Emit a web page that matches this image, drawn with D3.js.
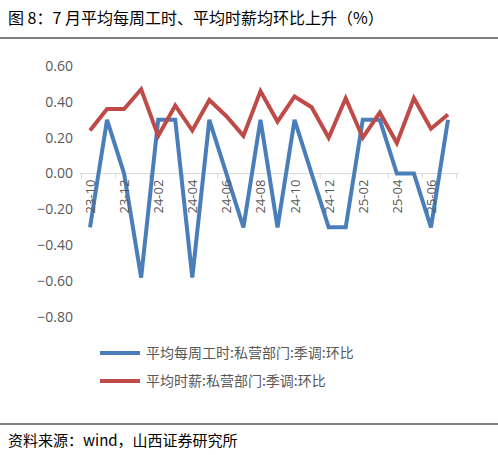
<!DOCTYPE html>
<html><head><meta charset="utf-8">
<script src="https://cdn.jsdelivr.net/npm/d3@7"></script>
<style>body{margin:0;background:#fff;font-family:"Noto Sans CJK SC","DejaVu Sans",sans-serif;}</style>
</head><body><div id="chart"></div>
<script>
const months = ["23-10","23-11","23-12","24-01","24-02","24-03","24-04","24-05","24-06","24-07","24-08","24-09","24-10","24-11","24-12","25-01","25-02","25-03","25-04","25-05","25-06","25-07"];
const hours = [-0.3,0.3,0.0,-0.58,0.3,0.3,-0.58,0.3,0.0,-0.3,0.3,-0.3,0.3,0.0,-0.3,-0.3,0.3,0.3,0.0,0.0,-0.3,0.3];
const wages = [0.24,0.36,0.36,0.47,0.21,0.38,0.24,0.41,0.32,0.21,0.46,0.29,0.43,0.37,0.20,0.42,0.20,0.34,0.17,0.42,0.25,0.33];
const yTicks = [0.6,0.4,0.2,0,-0.2,-0.4,-0.6,-0.8];
const seriesNames = ["平均每周工时:私营部门:季调:环比","平均时薪:私营部门:季调:环比"];
const colors = ["#4a7ebb","#be4b48"];

const W = 498, H = 455;
const svg = d3.select("#chart").append("svg").attr("width", W).attr("height", H);

svg.append("text").attr("x", 8).attr("y", 24).attr("font-size", 16).attr("fill", "#000")
  .text("图 8：7 月平均每周工时、平均时薪均环比上升（%）");
svg.append("line").attr("x1", 0).attr("x2", W).attr("y1", 38).attr("y2", 38).attr("stroke", "#000").attr("stroke-width", 1);
svg.append("line").attr("x1", 0).attr("x2", W).attr("y1", 424).attr("y2", 424).attr("stroke", "#000").attr("stroke-width", 1);
svg.append("text").attr("x", 8).attr("y", 446).attr("font-size", 15).attr("fill", "#000")
  .text("资料来源：wind，山西证券研究所");

const y = d3.scaleLinear().domain([-0.8, 0.6]).range([317, 66]);
const x = d3.scalePoint().domain(months).range([90, 448]);

// y tick labels
svg.append("g").selectAll("text").data(yTicks).join("text")
  .attr("x", 73).attr("y", d => y(d)).attr("dy", "0.35em")
  .attr("text-anchor", "end").attr("font-size", 14).attr("fill", "#595959")
  .attr("font-family", "Open Sans, sans-serif")
  .text(d => d3.format(".2f")(d));

// zero axis with ticks
const step = x.step();
const ax = svg.append("g").attr("stroke", "#d9d9d9");
ax.append("line").attr("x1", 80).attr("x2", 459).attr("y1", y(0)).attr("y2", y(0));
ax.selectAll("line.t").data(months.filter((m, i) => i % 2 === 0).concat(["end"])).join("line")
  .attr("class", "t")
  .attr("x1", (d, i) => 90 - step / 2 + i * 2 * step).attr("x2", (d, i) => 90 - step / 2 + i * 2 * step)
  .attr("y1", y(0)).attr("y2", y(0) + 5);

const line = d3.line().x((d, i) => x(months[i])).y(d => y(d));
[hours, wages].forEach((s, k) => {
  svg.append("path").datum(s).attr("d", line).attr("fill", "none")
    .attr("stroke", colors[k]).attr("stroke-width", 4).attr("stroke-linejoin", "miter");
});

// x labels rotated (drawn over lines, as in original)
svg.append("g").selectAll("text").data(months.filter((m, i) => i % 2 === 0)).join("text")
  .attr("transform", d => `translate(${x(d) + 5},${y(0) + 6}) rotate(-90)`)
  .attr("text-anchor", "end").attr("font-size", 13).attr("fill", "#595959")
  .attr("font-family", "Open Sans, sans-serif")
  .text(d => d);

// legend
const lg = svg.append("g").selectAll("g").data(seriesNames).join("g")
  .attr("transform", (d, i) => `translate(100,${353 + i * 28})`);
lg.append("line").attr("x1", 0).attr("x2", 40).attr("stroke", (d, i) => colors[i]).attr("stroke-width", 4);
lg.append("text").attr("x", 46).attr("dy", "0.35em").attr("font-size", 14).attr("fill", "#595959").text(d => d);
</script></body></html>
